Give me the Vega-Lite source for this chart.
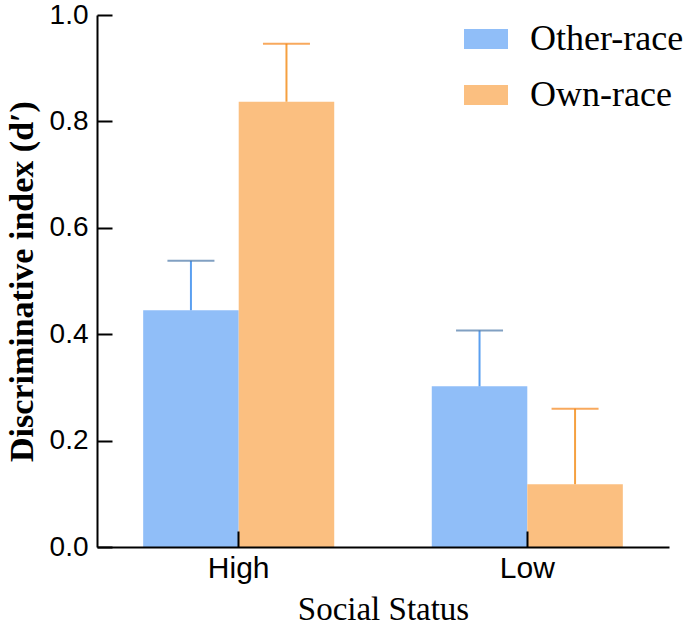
{
  "$schema": "https://vega.github.io/schema/vega-lite/v6.json",
  "width": 572,
  "height": 532,
  "autosize": {"type": "none"},
  "padding": {"left": 97, "top": 15, "right": 16, "bottom": 81},
  "background": "white",
  "config": {"view": {"stroke": null}},
  "data": {"values": [
    {"status": "High", "race": "Other-race", "d": 0.445, "upper": 0.538},
    {"status": "High", "race": "Own-race", "d": 0.837, "upper": 0.946},
    {"status": "Low", "race": "Other-race", "d": 0.302, "upper": 0.407},
    {"status": "Low", "race": "Own-race", "d": 0.118, "upper": 0.260}
  ]},
  "encoding": {
    "x": {
      "field": "status", "type": "nominal",
      "scale": {"paddingInner": 0.338, "paddingOuter": 0.16},
      "axis": {
        "title": "Social Status", "titleFont": "Liberation Serif", "titleFontSize": 33, "titleFontWeight": "normal", "titleColor": "black", "titlePadding": 10,
        "labelAngle": 0, "labelFont": "Liberation Sans", "labelFontSize": 30, "labelColor": "black", "labelPadding": 22,
        "domainColor": "black", "domainWidth": 2, "tickColor": "black", "tickWidth": 2, "tickSize": -16, "zindex": 1
      }
    },
    "xOffset": {"field": "race", "type": "nominal", "scale": {"paddingInner": 0, "paddingOuter": 0}}
  },
  "layer": [
    {
      "mark": {"type": "bar"},
      "encoding": {
        "y": {
          "field": "d", "type": "quantitative",
          "scale": {"domain": [0, 1.0]},
          "axis": {
            "title": "Discriminative index (d′)", "titleFont": "Liberation Serif", "titleFontSize": 34, "titleFontWeight": "bold", "titleColor": "black", "titlePadding": 10,
            "values": [0, 0.2, 0.4, 0.6, 0.8, 1.0], "format": ".1f", "grid": false,
            "labelFont": "Liberation Sans", "labelFontSize": 28, "labelColor": "black", "labelPadding": 24,
            "domainColor": "black", "domainWidth": 2, "tickColor": "black", "tickWidth": 2, "tickSize": -15
          }
        },
        "color": {
          "field": "race", "type": "nominal",
          "scale": {"domain": ["Other-race", "Own-race"], "range": ["#90bef8", "#fbbf80"]},
          "legend": {
            "title": null, "orient": "none", "legendX": 367, "legendY": 2,
            "symbolType": "M-1,-0.4545H1V0.4545H-1Z", "symbolSize": 1936, "symbolStrokeWidth": 0,
            "labelFont": "Liberation Serif", "labelFontSize": 36, "labelColor": "black", "labelOffset": 22,
            "rowPadding": 16, "labelLimit": 300
          }
        }
      }
    },
    {
      "mark": {"type": "rule", "strokeWidth": 2},
      "encoding": {
        "y": {"field": "d", "type": "quantitative"},
        "y2": {"field": "upper"},
        "color": {"field": "race", "type": "nominal", "scale": {"domain": ["Other-race", "Own-race"], "range": ["#5a9ff0", "#f5a040"]}, "legend": null}
      }
    },
    {
      "mark": {"type": "tick", "thickness": 2, "size": 47, "orient": "horizontal"},
      "encoding": {
        "y": {"field": "upper", "type": "quantitative"},
        "color": {"field": "race", "type": "nominal", "legend": null}
      }
    }
  ],
  "resolve": {"scale": {"color": "independent"}}
}
